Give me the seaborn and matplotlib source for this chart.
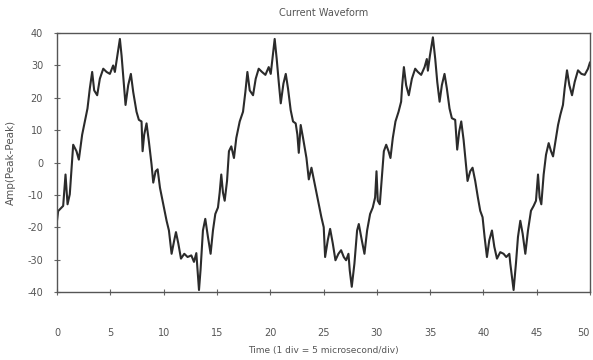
import numpy as np
import pandas as pd
import matplotlib
matplotlib.use("Agg")
import matplotlib.pyplot as plt
import seaborn as sns

# Sampled current waveform (time in divisions, amplitude peak-peak)
time = [
    0.00, 0.11, 0.58, 0.80, 0.99, 1.20, 1.52, 1.83, 2.05, 2.36, 2.61, 2.86,
    3.08, 3.30, 3.49, 3.77, 4.02, 4.34, 4.65, 4.96, 5.27, 5.43, 5.59, 5.90,
    6.06, 6.21, 6.43, 6.68, 6.93, 7.15, 7.46, 7.68, 7.93, 8.03, 8.18, 8.40,
    8.62, 8.87, 9.03, 9.25, 9.44, 9.66, 9.97, 10.28, 10.50, 10.75, 11.00,
    11.16, 11.38, 11.63, 11.94, 12.25, 12.60, 12.85, 13.07, 13.32, 13.47,
    13.69, 13.91, 14.16, 14.41, 14.63, 14.85, 15.10, 15.26, 15.41, 15.57,
    15.73, 15.95, 16.13, 16.35, 16.60, 16.82, 17.14, 17.45, 17.67, 17.86,
    18.08, 18.39, 18.64, 18.92, 19.23, 19.55, 19.86, 20.05, 20.17, 20.42,
    20.61, 20.80, 20.99, 21.24, 21.46, 21.67, 21.92, 22.14, 22.39, 22.55,
    22.68, 22.86, 23.08, 23.40, 23.62, 23.87, 24.18, 24.49, 24.80, 25.02,
    25.15, 25.40, 25.62, 25.87, 26.12, 26.40, 26.65, 26.90, 27.12, 27.34,
    27.46, 27.65, 27.90, 28.15, 28.31, 28.59, 28.84, 29.09, 29.37, 29.62,
    29.84, 29.97, 30.09, 30.28, 30.47, 30.66, 30.88, 31.10, 31.28, 31.50,
    31.75, 32.04, 32.28, 32.38, 32.54, 32.75, 33.00, 33.29, 33.60, 33.85,
    34.16, 34.48, 34.69, 34.79, 34.98, 35.26, 35.48, 35.67, 35.89, 36.10,
    36.35, 36.57, 36.82, 37.04, 37.35, 37.54, 37.73, 37.92, 38.14, 38.29,
    38.51, 38.76, 38.98, 39.23, 39.48, 39.70, 39.92, 40.11, 40.33, 40.55,
    40.80, 41.02, 41.27, 41.58, 41.89, 42.14, 42.43, 42.52, 42.83, 43.05,
    43.24, 43.46, 43.68, 43.93, 44.18, 44.46, 44.71, 44.93, 45.12, 45.27,
    45.43, 45.65, 45.87, 46.12, 46.34, 46.53, 46.75, 47.00, 47.21, 47.46,
    47.62, 47.84, 48.06, 48.31, 48.56, 48.87, 49.19, 49.50, 49.81, 50.00,
]
amplitude = [
    -18.0, -15.0, -13.4, -3.7, -12.9, -9.8, 5.5, 3.5, 0.9, 8.6, 12.7, 16.7,
    22.9, 28.0, 22.3, 20.8, 25.9, 29.0, 28.0, 27.4, 30.0, 28.0, 31.5, 38.2,
    33.0, 26.9, 17.8, 23.9, 27.4, 21.8, 15.7, 13.2, 12.7, 3.5, 8.6, 12.1,
    6.5, -0.6, -6.2, -2.7, -2.1, -7.8, -12.9, -18.0, -21.0, -28.2, -24.0,
    -21.5, -25.0, -29.7, -28.2, -29.2, -28.7, -30.7, -28.0, -39.4, -33.0,
    -21.0, -17.4, -23.0, -28.2, -21.0, -15.9, -13.9, -9.3, -3.7, -9.3,
    -11.8, -5.7, 3.5, 5.0, 1.4, 7.6, 12.7, 15.7, 21.8, 28.0,
    22.3, 20.8, 25.9, 29.0, 28.0, 27.1, 29.5, 27.4, 31.0, 38.2,
    32.0, 24.9, 18.3, 24.4, 27.4, 22.9, 16.2, 12.7, 12.1, 8.6,
    3.0, 11.6, 7.6, 1.4, -5.2, -1.6, -6.7, -11.8, -16.9, -20.0,
    -29.2, -24.0, -20.5, -25.0, -30.2, -28.2, -27.1, -29.2, -30.2, -28.2,
    -33.3, -38.4, -31.2, -21.0, -19.0, -24.0, -28.2, -21.0, -15.9, -13.9,
    -10.8, -2.7, -11.8, -12.9, -4.7, 3.5, 5.5, 3.5, 1.4, 7.6,
    12.7, 15.7, 18.8, 23.9, 29.5, 23.9, 20.8, 25.9, 29.0, 28.0,
    27.1, 29.5, 32.0, 28.4, 33.0, 38.7, 32.0, 24.9, 18.8, 23.9,
    27.4, 22.9, 16.7, 13.7, 13.2, 4.0, 9.6, 12.7, 7.0, 1.9,
    -5.7, -2.7, -1.6, -5.7, -10.8, -14.9, -16.9, -23.0, -29.2, -24.0,
    -21.0, -26.0, -29.7, -27.7, -28.2, -29.2, -28.2, -31.2, -39.4, -31.2,
    -23.0, -18.0, -22.0, -28.2, -21.0, -14.9, -13.4, -11.8, -3.7, -10.8,
    -12.9, -3.7, 2.4, 6.0, 3.5, 1.9, 6.5, 11.6, 14.7, 17.8,
    22.9, 28.5, 23.9, 20.8, 24.9, 28.5, 27.4, 27.1, 29.0, 31.0,
]

x_ticks = [0, 5, 10, 15, 20, 25, 30, 35, 40, 45, 50]
y_ticks = [-40, -30, -20, -10, 0, 10, 20, 30, 40]

df = pd.DataFrame({"time": time, "amp": amplitude})

sns.set_theme(style="white")
plt.rcParams["font.family"] = ["DejaVu Sans"]

fig = plt.figure(figsize=(5.93, 3.60), dpi=100)
ax = fig.add_axes([0.0961, 0.189, 0.8989, 0.719])

line = sns.lineplot(data=df, x="time", y="amp", ax=ax, color="#2b2b2b",
                    linewidth=1.5, estimator=None, sort=False)
for ln in ax.lines:
    ln.set_solid_joinstyle("round")
    ln.set_solid_capstyle("round")

ax.set_xlim(0, 50)
ax.set_ylim(-40, 40)
ax.set_xticks(x_ticks)
ax.set_yticks(y_ticks)
ax.set_xticklabels([str(v) for v in x_ticks])
ax.set_yticklabels([str(v) for v in y_ticks])

text_color = "#555555"
ax.tick_params(axis="both", which="both", direction="inout", length=4,
               width=0.8, color="#666666", labelsize=7, labelcolor=text_color)
ax.tick_params(axis="x", pad=24, bottom=True)
ax.tick_params(axis="y", pad=8, left=True)

# keep the last x label inside the canvas
ax.get_xticklabels()[-1].set_horizontalalignment("right")

for side in ["left", "right", "top", "bottom"]:
    ax.spines[side].set_visible(True)
    ax.spines[side].set_color("#555555")
    ax.spines[side].set_linewidth(1.0)

ax.set_title("Current Waveform", fontsize=7, color=text_color, pad=12)
ax.set_xlabel("Time (1 div = 5 microsecond/div)", fontsize=6.5,
              color=text_color, labelpad=6)
ax.set_ylabel("Amp(Peak-Peak)", fontsize=7.5, color=text_color, labelpad=8)

fig.savefig("out.png", dpi=100)
